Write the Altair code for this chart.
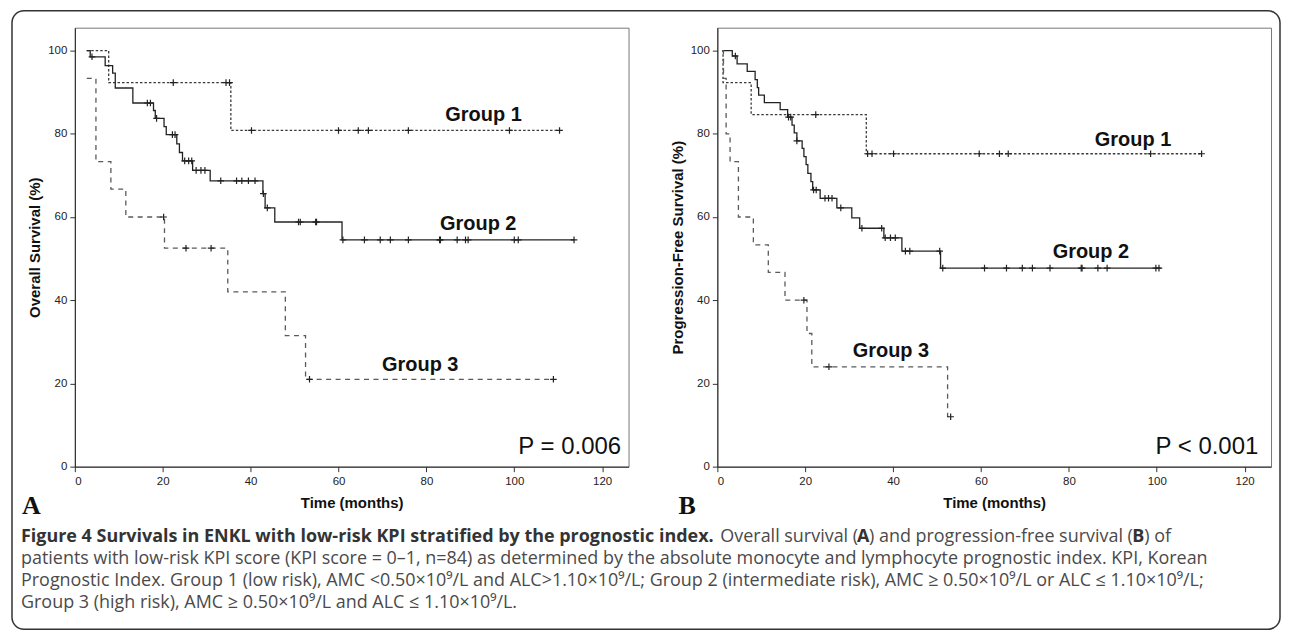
import altair as alt
import pandas as pd

GROUPS = ["Group 1", "Group 2", "Group 3"]

# ---------- Panel A : Overall survival (step points) ----------
os_g1_t = [2.7, 7.7, 35.5, 110.3]
os_g1_s = [100.0, 92.3, 80.8, 80.8]
os_g2_t = [2.7, 3.5, 6.9, 8.6, 9.2, 13.2, 17.9, 18.3, 20.3, 20.8, 23.2, 23.8, 24.5,
           26.8, 30.8, 42.8, 43.3, 45.5, 60.8, 113.6]
os_g2_s = [100.0, 98.5, 96.4, 94.6, 91.0, 87.4, 85.6, 83.7, 81.7, 79.8, 77.6, 75.5, 73.5,
           71.2, 68.7, 65.6, 62.2, 58.8, 54.5, 54.5]
os_g3_t = [2.7, 4.8, 8.2, 11.6, 20.4, 34.8, 47.9, 52.5, 108.9]
os_g3_s = [93.3, 73.3, 66.7, 60.0, 52.5, 42.0, 31.5, 21.0, 21.0]

# censored observations (time, survival)
os_c1_t = [22.4, 34.4, 35.2, 40.2, 60.0, 64.5, 66.8, 75.9, 98.9, 110.3]
os_c1_s = [92.3, 92.3, 92.3, 80.8, 80.8, 80.8, 80.8, 80.8, 80.8, 80.8]
os_c2_t = [3.9, 16.5, 17.2, 18.6, 22.2, 22.8, 25.0, 25.9, 26.6, 27.6, 28.7, 29.6,
           33.2, 36.8, 38.0, 39.5, 41.0, 42.9, 43.8, 50.9, 51.3, 54.8, 55.0,
           61.0, 65.9, 69.5, 71.8, 75.9, 83.0, 83.2, 87.0, 88.9, 89.5, 100.0, 100.9, 113.6]
os_c2_s = [98.5, 87.4, 87.4, 83.7, 79.8, 79.8, 73.5, 73.5, 73.5, 71.2, 71.2, 71.2,
           68.7, 68.7, 68.7, 68.7, 68.7, 65.6, 62.2, 58.8, 58.8, 58.8, 58.8,
           54.5, 54.5, 54.5, 54.5, 54.5, 54.5, 54.5, 54.5, 54.5, 54.5, 54.5, 54.5, 54.5]
os_c3_t = [20.2, 25.3, 31.0, 53.4, 108.9]
os_c3_s = [60.0, 52.5, 52.5, 21.0, 21.0]

# ---------- Panel B : Progression-free survival ----------
pfs_g1_t = [1.1, 1.3, 7.7, 33.9, 110.2]
pfs_g1_s = [100.0, 92.3, 84.6, 75.2, 75.2]
pfs_g2_t = [1.1, 3.4, 4.5, 6.8, 8.6, 9.1, 9.4, 10.7, 14.3, 16.0, 17.0, 17.5, 18.1, 19.3,
            19.7, 20.2, 20.6, 21.3, 21.7, 23.4, 27.2, 30.6, 32.4, 37.9, 42.0, 50.8, 100.9]
pfs_g2_s = [100.0, 98.7, 96.8, 95.0, 93.0, 91.1, 89.3, 87.5, 85.8, 84.0, 82.1, 80.2, 78.3, 76.5,
            74.5, 72.6, 70.5, 68.5, 66.5, 64.5, 62.2, 59.8, 57.3, 55.0, 51.8, 47.7, 47.7]
pfs_g3_t = [1.1, 1.4, 2.0, 2.9, 4.8, 8.2, 11.6, 15.4, 20.4, 21.5, 52.4, 53.1]
pfs_g3_s = [100.0, 93.3, 80.0, 73.3, 60.0, 53.3, 46.7, 40.0, 32.0, 24.0, 12.0, 12.0]

pfs_c1_t = [22.4, 34.2, 35.2, 40.1, 59.6, 64.2, 66.2, 98.6, 110.2]
pfs_c1_s = [84.6, 75.2, 75.2, 75.2, 75.2, 75.2, 75.2, 75.2, 75.2]
pfs_c2_t = [4.1, 16.2, 16.7, 18.1, 21.9, 22.5, 24.5, 25.3, 26.1, 28.1, 32.9, 37.4,
            38.2, 39.4, 40.5, 42.8, 43.8, 50.6, 51.3, 60.8, 65.8, 69.4, 71.7, 75.7,
            82.8, 83.0, 86.6, 88.7, 99.8, 100.5]
pfs_c2_s = [98.7, 84.0, 84.0, 78.3, 66.5, 66.5, 64.5, 64.5, 64.5, 62.2, 57.3, 57.3,
            55.0, 55.0, 55.0, 51.8, 51.8, 51.8, 47.7, 47.7, 47.7, 47.7, 47.7, 47.7,
            47.7, 47.7, 47.7, 47.7, 47.7, 47.7]
pfs_c3_t = [19.7, 25.4, 53.1]
pfs_c3_s = [40.0, 24.0, 12.0]

# ---------- annotation labels ----------
lab_names = ["Group 1", "Group 2", "Group 3"]
os_lab_t = [93.0, 91.8, 78.6]
os_lab_s = [84.4, 58.3, 24.4]
pfs_lab_t = [94.6, 85.0, 39.5]
pfs_lab_s = [78.6, 51.6, 27.9]
os_p_text, os_p_t, os_p_s = "P = 0.006", 124.3, 4.6
pfs_p_text, pfs_p_t, pfs_p_s = "P < 0.001", 123.1, 4.8

x_ticks = [0, 20, 40, 60, 80, 100, 120]
y_ticks = [0, 20, 40, 60, 80, 100]

caption_bold = "Figure 4 Survivals in ENKL with low-risk KPI stratified by the prognostic index."
caption_l1 = ["Overall survival (", "A", ") and progression-free survival (", "B", ") of"]
caption_l2 = ("patients with low-risk KPI score (KPI score = 0\u20131, n=84) as determined by the "
              "absolute monocyte and lymphocyte prognostic index. KPI, Korean")
caption_l3 = ("Prognostic Index. Group 1 (low risk), AMC <0.50\u00d710\u2079/L and ALC>1.10\u00d710\u2079/L; "
              "Group 2 (intermediate risk), AMC \u2265 0.50\u00d710\u2079/L or ALC \u2264 1.10\u00d710\u2079/L;")
caption_l4 = "Group 3 (high risk), AMC \u2265 0.50\u00d710\u2079/L and ALC \u2264 1.10\u00d710\u2079/L."


def long_df(parts):
    rows = []
    for name, ts, ss in parts:
        for t, s in zip(ts, ss):
            rows.append({"group": name, "time": t, "surv": s})
    return pd.DataFrame(rows)


SANS = "Liberation Sans"
CAP = "Open Sans"
W, H = 555, 440
XDOM = [0, 126]
YDOM = [0, 105.5]

one = pd.DataFrame({"k": [0]})


def txt(text, x, y, **kw):
    return alt.Chart(one).mark_text(text=text, **kw).encode(x=alt.value(x), y=alt.value(y))


def panel(steps, cens, labs, ptxt, pt, ps, ytitle, letter, letter_x, extra=None):
    xs = alt.Scale(domain=XDOM, nice=False, zero=False)
    ys = alt.Scale(domain=YDOM, nice=False)
    xax = alt.Axis(values=x_ticks, title="Time (months)", format="d")
    yax = alt.Axis(values=y_ticks, title=ytitle, format="d")
    color = alt.Color("group:N", scale=alt.Scale(domain=GROUPS, range=["#3a3a3a", "#222222", "#5a5a5a"]),
                      legend=None)
    dash = alt.StrokeDash("group:N", scale=alt.Scale(domain=GROUPS, range=[[2.5, 2], [1, 0], [5, 4.5]]),
                          legend=None)
    lines = alt.Chart(steps).mark_line(interpolate="step-after", strokeWidth=1.3).encode(
        x=alt.X("time:Q", scale=xs, axis=xax),
        y=alt.Y("surv:Q", scale=ys, axis=yax),
        color=color, strokeDash=dash, detail="group:N", order="time:Q")
    cmarks = alt.Chart(cens).mark_point(shape="M-1,0L1,0M0,-1L0,1", size=44, filled=False,
                                        strokeWidth=1.2, color="#222222", opacity=1).encode(
        x="time:Q", y="surv:Q")
    labels = alt.Chart(labs).mark_text(font=SANS, fontSize=20, fontWeight="bold", color="#111111",
                                       align="center", baseline="middle").encode(
        x="time:Q", y="surv:Q", text="label:N")
    ptext = alt.Chart(pd.DataFrame({"time": [pt], "surv": [ps], "label": [ptxt]})).mark_text(
        font=SANS, fontSize=24, color="#111111", align="right", baseline="middle").encode(
        x="time:Q", y="surv:Q", text="label:N")
    let = txt(letter, letter_x, 487, font="Liberation Serif", fontSize=26, fontWeight="bold",
              color="#111111", align="left", baseline="alphabetic")
    layers = [lines, cmarks, labels, ptext, let]
    if extra:
        layers += extra
    return alt.layer(*layers).properties(width=W, height=H)


# decorations (relative to panel A plot origin)
OX = 73
border = alt.Chart(one).mark_rect(cornerRadius=12, fill="transparent", stroke="#333333",
                                  strokeWidth=1.5).encode(
    x=alt.value(-63), x2=alt.value(1208), y=alt.value(-17), y2=alt.value(603))

cap_kw = dict(font=CAP, fontSize=18, align="left", baseline="alphabetic")
b1 = 541 - 25
sp = 22
cap_layers = [
    border,
    txt(caption_bold, 19 - OX, b1, fontWeight="bold", color="#333333", **cap_kw),
    txt(caption_l1[0], 720 - OX, b1, color="#4a4a4a", **cap_kw),
    txt(caption_l1[1], 857 - OX, b1, fontWeight="bold", color="#333333", **cap_kw),
    txt(caption_l1[2], 869 - OX, b1, color="#4a4a4a", **cap_kw),
    txt(caption_l1[3], 1133 - OX, b1, fontWeight="bold", color="#333333", **cap_kw),
    txt(caption_l1[4], 1145 - OX, b1, color="#4a4a4a", **cap_kw),
    txt(caption_l2, 19 - OX, b1 + sp, color="#4a4a4a", **cap_kw),
    txt(caption_l3, 19 - OX, b1 + 2 * sp, color="#4a4a4a", **cap_kw),
    txt(caption_l4, 19 - OX, b1 + 3 * sp, color="#4a4a4a", **cap_kw),
]

os_steps = long_df([("Group 1", os_g1_t, os_g1_s), ("Group 2", os_g2_t, os_g2_s), ("Group 3", os_g3_t, os_g3_s)])
os_cens = long_df([("Group 1", os_c1_t, os_c1_s), ("Group 2", os_c2_t, os_c2_s), ("Group 3", os_c3_t, os_c3_s)])
os_labs = pd.DataFrame({"label": lab_names, "time": os_lab_t, "surv": os_lab_s})

pfs_steps = long_df([("Group 1", pfs_g1_t, pfs_g1_s), ("Group 2", pfs_g2_t, pfs_g2_s), ("Group 3", pfs_g3_t, pfs_g3_s)])
pfs_cens = long_df([("Group 1", pfs_c1_t, pfs_c1_s), ("Group 2", pfs_c2_t, pfs_c2_s), ("Group 3", pfs_c3_t, pfs_c3_s)])
pfs_labs = pd.DataFrame({"label": lab_names, "time": pfs_lab_t, "surv": pfs_lab_s})

chartA = panel(os_steps, os_cens, os_labs, os_p_text, os_p_t, os_p_s,
               "Overall Survival (%)", "A", 20 - OX, extra=cap_layers)
chartB = panel(pfs_steps, pfs_cens, pfs_labs, pfs_p_text, pfs_p_t, pfs_p_s,
               "Progression-Free Survival (%)", "B", 678 - 717)

chart = alt.hconcat(chartA, chartB, spacing=89, bounds="flush").properties(
    padding={"left": 2, "top": 0, "right": 0, "bottom": 0}
).configure_view(stroke="#777777", strokeWidth=1).configure_axis(
    labelFont=SANS, labelFontSize=11.5, labelColor="#222222", tickColor="#333333",
    domainColor="#222222", tickSize=5, labelPadding=3, grid=False,
    titleFont=SANS, titleFontSize=15, titleFontWeight="bold", titleColor="#111111"
).configure_axisY(titlePadding=5).configure_axisX(titlePadding=8, labelPadding=4)

chart.save("out.html", embed_options={"renderer": "svg", "actions": False})
